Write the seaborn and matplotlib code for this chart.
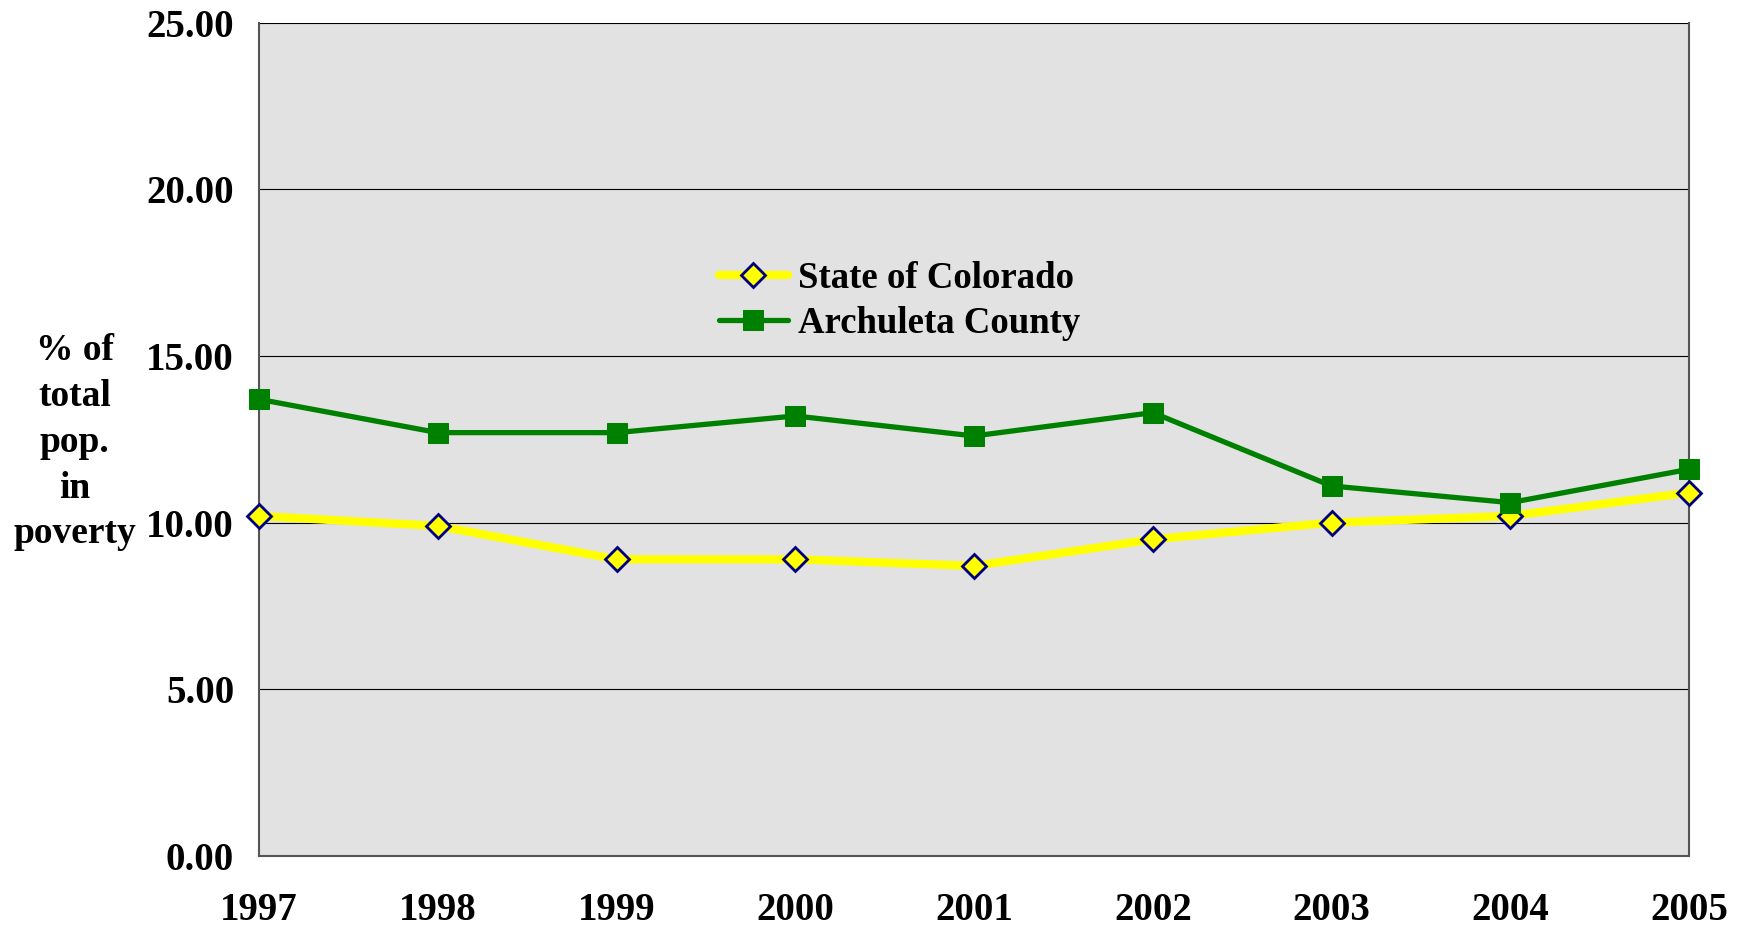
import matplotlib
matplotlib.use("Agg")
import matplotlib.pyplot as plt
import seaborn as sns
import pandas as pd

years = [1997, 1998, 1999, 2000, 2001, 2002, 2003, 2004, 2005]
colorado = [10.2, 9.9, 8.9, 8.9, 8.7, 9.5, 10.0, 10.2, 10.9]
archuleta = [13.7, 12.7, 12.7, 13.2, 12.6, 13.3, 11.1, 10.6, 11.6]
y_ticks = [0, 5, 10, 15, 20, 25]

df = pd.DataFrame({"year": years, "State of Colorado": colorado, "Archuleta County": archuleta})

sns.set_style("white")
plt.rcParams['font.family'] = ['Liberation Serif', 'DejaVu Serif']
plt.rcParams['font.weight'] = 'bold'
plt.rcParams['text.color'] = 'black'

fig = plt.figure(figsize=(17.4, 9.31), dpi=100)
ax = fig.add_axes([0.1489, 0.0806, 0.8218, 0.8951])
ax.set_facecolor('#e2e2e2')

# state line first so the county line sits on top
sns.lineplot(data=df, x="year", y="State of Colorado", ax=ax, color='#ffff00', linewidth=6,
             marker='D', markersize=12, markerfacecolor='#ffff00', markeredgecolor='#000080',
             markeredgewidth=2, label="State of Colorado", clip_on=False, zorder=3)
sns.lineplot(data=df, x="year", y="Archuleta County", ax=ax, color='#008000', linewidth=3.8,
             marker='s', markersize=15, markerfacecolor='#008000', markeredgecolor='#008000',
             label="Archuleta County", clip_on=False, zorder=4)

ax.set_xlim(1997, 2005)
ax.set_ylim(0, 25)
ax.set_xticks(years)
ax.set_xticklabels([str(y) for y in years])
ax.set_yticks(y_ticks)
ax.set_yticklabels(['%.2f' % v for v in y_ticks])
ax.yaxis.grid(True, color='black', linewidth=0.8)
ax.set_axisbelow(True)

for s in ax.spines.values():
    s.set_color('#555555')
    s.set_linewidth(1.5)
ax.spines['top'].set_visible(False)

ax.tick_params(axis='both', direction='out', length=10, width=1, colors='#333333',
               labelcolor='black', labelsize=28)
ax.tick_params(axis='x', pad=16)
ax.tick_params(axis='y', pad=8)
for lab in ax.get_xticklabels() + ax.get_yticklabels():
    lab.set_fontweight('bold')

ax.set_xlabel('')
ax.set_ylabel('')
fig.text(0.043, 0.525, "% of\ntotal\npop.\nin\npoverty", ha='center', va='center',
         fontsize=27, fontweight='bold', linespacing=1.4, color='black')

leg = ax.legend(loc='upper left', bbox_to_anchor=(0.311, 0.732), frameon=False,
                fontsize=26.5, handlelength=1.9, handletextpad=0.25, labelspacing=0.28,
                borderaxespad=0)
for t in leg.get_texts():
    t.set_fontweight('bold')
    t.set_color('black')

fig.savefig("out.png", dpi=100)
